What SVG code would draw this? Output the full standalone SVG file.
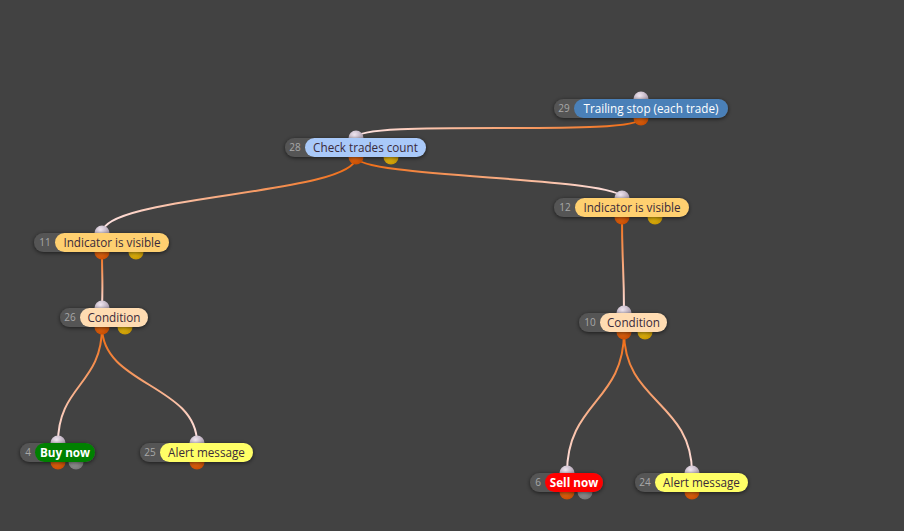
<svg xmlns="http://www.w3.org/2000/svg" width="904" height="531" viewBox="0 0 904 531">
<defs>
<style>
.outer{fill:#555555;filter:url(#sh)}
.num{font-family:"Open Sans","Liberation Sans",sans-serif;font-size:10px;fill:#a8a8a8;text-anchor:middle}
.lbl{font-family:"Open Sans","Liberation Sans",sans-serif;font-size:11.7px;fill:#3a2a3a;text-anchor:middle}
.lblw{font-family:"Open Sans","Liberation Sans",sans-serif;font-size:11.7px;fill:#ffffff;text-anchor:middle}
.bold{font-weight:bold}
.kin{fill:url(#gIn)}
.kout{fill:url(#gOut)}
.kyel{fill:url(#gYel)}
.kgray{fill:url(#gGray)}
.conn{fill:none;stroke-width:2}
</style>
<filter id="sh" x="-20%" y="-50%" width="140%" height="200%">
<feDropShadow dx="0" dy="1" stdDeviation="2" flood-color="#000" flood-opacity="0.6"/>
</filter>
<radialGradient id="gIn" cx="0.4" cy="0.3" r="0.8"><stop offset="0" stop-color="#f2e8f2"/><stop offset="1" stop-color="#9a8a9e"/></radialGradient>
<radialGradient id="gOut" cx="0.4" cy="0.3" r="0.8"><stop offset="0" stop-color="#ff7a1a"/><stop offset="1" stop-color="#c04800"/></radialGradient>
<radialGradient id="gYel" cx="0.4" cy="0.3" r="0.8"><stop offset="0" stop-color="#ffd21a"/><stop offset="1" stop-color="#c09000"/></radialGradient>
<radialGradient id="gGray" cx="0.4" cy="0.3" r="0.8"><stop offset="0" stop-color="#b0b0b0"/><stop offset="1" stop-color="#707070"/></radialGradient>
<linearGradient id="c1" gradientUnits="userSpaceOnUse" x1="641" y1="118" x2="356" y2="138"><stop offset="0" stop-color="#f06a10"/><stop offset="1" stop-color="#ffe4e4"/></linearGradient>
<linearGradient id="c2" gradientUnits="userSpaceOnUse" x1="356" y1="157" x2="622" y2="198"><stop offset="0" stop-color="#f06a10"/><stop offset="1" stop-color="#ffe4e4"/></linearGradient>
<linearGradient id="c3" gradientUnits="userSpaceOnUse" x1="356" y1="157" x2="102" y2="233"><stop offset="0" stop-color="#f06a10"/><stop offset="1" stop-color="#ffe4e4"/></linearGradient>
<linearGradient id="c4" gradientUnits="userSpaceOnUse" x1="102" y1="252" x2="102" y2="308"><stop offset="0" stop-color="#f06a10"/><stop offset="1" stop-color="#ffe4e4"/></linearGradient>
<linearGradient id="c5" gradientUnits="userSpaceOnUse" x1="622" y1="217" x2="624" y2="313"><stop offset="0" stop-color="#f06a10"/><stop offset="1" stop-color="#ffe4e4"/></linearGradient>
<linearGradient id="c6" gradientUnits="userSpaceOnUse" x1="102" y1="327" x2="58" y2="443"><stop offset="0" stop-color="#f06a10"/><stop offset="1" stop-color="#ffe4e4"/></linearGradient>
<linearGradient id="c7" gradientUnits="userSpaceOnUse" x1="102" y1="327" x2="197" y2="443"><stop offset="0" stop-color="#f06a10"/><stop offset="1" stop-color="#ffe4e4"/></linearGradient>
<linearGradient id="c8" gradientUnits="userSpaceOnUse" x1="624" y1="332" x2="567" y2="473"><stop offset="0" stop-color="#f06a10"/><stop offset="1" stop-color="#ffe4e4"/></linearGradient>
<linearGradient id="c9" gradientUnits="userSpaceOnUse" x1="624" y1="332" x2="692" y2="473"><stop offset="0" stop-color="#f06a10"/><stop offset="1" stop-color="#ffe4e4"/></linearGradient>
</defs>
<rect width="904" height="531" fill="#424242"/>
<g id="connectors">
<path class="conn" stroke="url(#c1)" d="M641,118 C641,138 356,118 356,138"/>
<path class="conn" stroke="url(#c2)" d="M356,157 C356,178 622,177 622,198"/>
<path class="conn" stroke="url(#c3)" d="M356,157 C356,195 102,195 102,233"/>
<path class="conn" stroke="url(#c4)" d="M102,252 C102,280 103,280 102,308"/>
<path class="conn" stroke="url(#c5)" d="M622,217 C622,265 624,265 624,313"/>
<path class="conn" stroke="url(#c6)" d="M102,327 C102,385 58,385 58,443"/>
<path class="conn" stroke="url(#c7)" d="M102,327 C102,385 197,385 197,443"/>
<path class="conn" stroke="url(#c8)" d="M624,332 C624,402 567,402 567,473"/>
<path class="conn" stroke="url(#c9)" d="M624,332 C624,402 692,402 692,473"/>
</g>
<g id="node29">
<circle class="kin" cx="641" cy="99" r="7.5"/><circle class="kout" cx="641" cy="118" r="7.5"/>
<rect class="outer" x="554" y="99" width="174" height="19" rx="9.5"/>
<rect x="574" y="99" width="154" height="19" rx="9.5" fill="#4a80b8"/>
<text class="num" x="564" y="112">29</text>
<text class="lblw" x="651" y="112.5">Trailing stop (each trade)</text>
</g>
<g id="node28">
<circle class="kin" cx="356" cy="138" r="7.5"/><circle class="kout" cx="356" cy="157" r="7.5"/><circle class="kyel" cx="391" cy="157" r="7.5"/>
<rect class="outer" x="285" y="138" width="141" height="19" rx="9.5"/>
<rect x="305" y="138" width="121" height="19" rx="9.5" fill="#a9c9f9"/>
<text class="num" x="295" y="151">28</text>
<text class="lbl" x="365.5" y="151.5">Check trades count</text>
</g>
<g id="node12">
<circle class="kin" cx="622" cy="198" r="7.5"/><circle class="kout" cx="622" cy="217" r="7.5"/><circle class="kyel" cx="655" cy="217" r="7.5"/>
<rect class="outer" x="554" y="198" width="135" height="19" rx="9.5"/>
<rect x="575" y="198" width="114" height="19" rx="9.5" fill="#ffd070"/>
<text class="num" x="565" y="211">12</text>
<text class="lbl" x="632" y="211.5">Indicator is visible</text>
</g>
<g id="node11">
<circle class="kin" cx="102" cy="233" r="7.5"/><circle class="kout" cx="102" cy="252" r="7.5"/><circle class="kyel" cx="136" cy="252" r="7.5"/>
<rect class="outer" x="34" y="233" width="135" height="19" rx="9.5"/>
<rect x="55" y="233" width="114" height="19" rx="9.5" fill="#ffd070"/>
<text class="num" x="45" y="246">11</text>
<text class="lbl" x="112" y="246.5">Indicator is visible</text>
</g>
<g id="node26">
<circle class="kin" cx="102" cy="308" r="7.5"/><circle class="kout" cx="102" cy="327" r="7.5"/><circle class="kyel" cx="125" cy="327" r="7.5"/>
<rect class="outer" x="60" y="308" width="88" height="19" rx="9.5"/>
<rect x="80" y="308" width="68" height="19" rx="9.5" fill="#ffdcb2"/>
<text class="num" x="70" y="321">26</text>
<text class="lbl" x="114" y="321.5">Condition</text>
</g>
<g id="node10">
<circle class="kin" cx="624" cy="313" r="7.5"/><circle class="kout" cx="624" cy="332" r="7.5"/><circle class="kyel" cx="645" cy="332" r="7.5"/>
<rect class="outer" x="579" y="313" width="88" height="19" rx="9.5"/>
<rect x="600" y="313" width="67" height="19" rx="9.5" fill="#ffdcb2"/>
<text class="num" x="590" y="326">10</text>
<text class="lbl" x="633.5" y="326.5">Condition</text>
</g>
<g id="node4">
<circle class="kin" cx="58" cy="443" r="7.5"/><circle class="kout" cx="58" cy="462" r="7.5"/><circle class="kgray" cx="76" cy="462" r="7.5"/>
<rect class="outer" x="20" y="443" width="75" height="19" rx="9.5"/>
<rect x="35" y="443" width="60" height="19" rx="9.5" fill="#008000"/>
<text class="num" x="28" y="456">4</text>
<text class="lblw bold" x="65" y="456.5">Buy now</text>
</g>
<g id="node25">
<circle class="kin" cx="197" cy="443" r="7.5"/><circle class="kout" cx="197" cy="462" r="7.5"/>
<rect class="outer" x="140" y="443" width="113" height="19" rx="9.5"/>
<rect x="160" y="443" width="93" height="19" rx="9.5" fill="#ffff66"/>
<text class="num" x="150" y="456">25</text>
<text class="lbl" x="206.5" y="456.5">Alert message</text>
</g>
<g id="node6">
<circle class="kin" cx="567" cy="473" r="7.5"/><circle class="kout" cx="567" cy="492" r="7.5"/><circle class="kgray" cx="585" cy="492" r="7.5"/>
<rect class="outer" x="530" y="473" width="73" height="19" rx="9.5"/>
<rect x="545" y="473" width="58" height="19" rx="9.5" fill="#ff0000"/>
<text class="num" x="538" y="486">6</text>
<text class="lblw bold" x="574" y="486.5">Sell now</text>
</g>
<g id="node24">
<circle class="kin" cx="692" cy="473" r="7.5"/><circle class="kout" cx="692" cy="492" r="7.5"/>
<rect class="outer" x="635" y="473" width="113" height="19" rx="9.5"/>
<rect x="655" y="473" width="93" height="19" rx="9.5" fill="#ffff66"/>
<text class="num" x="645" y="486">24</text>
<text class="lbl" x="701.5" y="486.5">Alert message</text>
</g>
</svg>
